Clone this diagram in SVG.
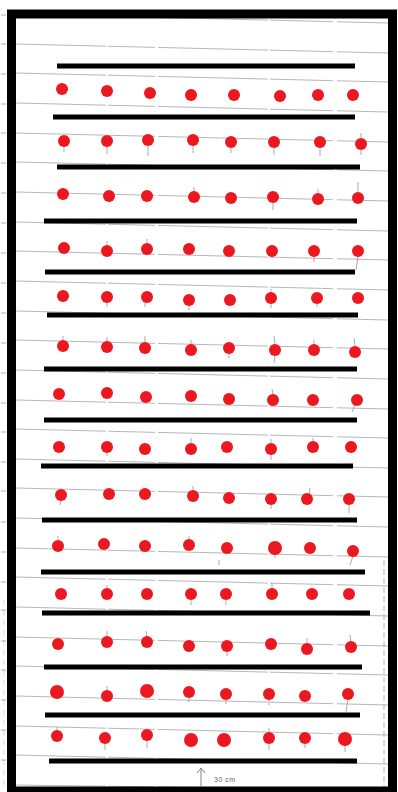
<svg xmlns="http://www.w3.org/2000/svg" width="398" height="792" viewBox="0 0 398 792">
<style>
.rule{stroke:#8c8c8c;stroke-width:0.9;fill:none;opacity:0.7;stroke-dasharray:90 2 47 3 110 2 63 4}
.tick{stroke:#9a9a9a;stroke-width:1;opacity:0.8}
.bar{stroke:#000;stroke-width:5;stroke-linecap:butt}
.dot{fill:#ec1820}
.stem{stroke:#8a8a8a;stroke-width:0.9;opacity:0.8}
.note{font-family:"Liberation Sans",Arial,sans-serif;font-size:7px;fill:#666;letter-spacing:0.5px}
</style>
<rect x="0" y="0" width="398" height="792" fill="#fff"/>
<g id="ruled-lines">
<line class="rule" x1="16" y1="14" x2="388" y2="23"/>
<line class="rule" x1="16" y1="44" x2="388" y2="53"/>
<line class="rule" x1="16" y1="73" x2="388" y2="82"/>
<line class="rule" x1="16" y1="103" x2="388" y2="112"/>
<line class="rule" x1="16" y1="133" x2="388" y2="142"/>
<line class="rule" x1="16" y1="162" x2="388" y2="171"/>
<line class="rule" x1="16" y1="192" x2="388" y2="201"/>
<line class="rule" x1="16" y1="222" x2="388" y2="231"/>
<line class="rule" x1="16" y1="251" x2="388" y2="260"/>
<line class="rule" x1="16" y1="281" x2="388" y2="290"/>
<line class="rule" x1="16" y1="311" x2="388" y2="320"/>
<line class="rule" x1="16" y1="340" x2="388" y2="349"/>
<line class="rule" x1="16" y1="370" x2="388" y2="379"/>
<line class="rule" x1="16" y1="400" x2="388" y2="409"/>
<line class="rule" x1="16" y1="429" x2="388" y2="438"/>
<line class="rule" x1="16" y1="459" x2="388" y2="468"/>
<line class="rule" x1="16" y1="488" x2="388" y2="497"/>
<line class="rule" x1="16" y1="518" x2="388" y2="527"/>
<line class="rule" x1="16" y1="548" x2="388" y2="557"/>
<line class="rule" x1="16" y1="577" x2="388" y2="586"/>
<line class="rule" x1="16" y1="607" x2="388" y2="616"/>
<line class="rule" x1="16" y1="637" x2="388" y2="646"/>
<line class="rule" x1="16" y1="666" x2="388" y2="675"/>
<line class="rule" x1="16" y1="696" x2="388" y2="705"/>
<line class="rule" x1="16" y1="726" x2="388" y2="735"/>
<line class="rule" x1="16" y1="755" x2="388" y2="764"/>
<line class="rule" x1="16" y1="785" x2="388" y2="790"/>
<line class="rule" x1="384" y1="560" x2="384" y2="787" style="stroke-dasharray:6 3"/>
<line class="rule" x1="4" y1="600" x2="4" y2="790" style="stroke-dasharray:5 5;opacity:0.4"/>
</g>
<g id="margin-ticks">
<line class="tick" x1="1" y1="15" x2="6" y2="15"/>
<line class="tick" x1="1" y1="44" x2="6" y2="44"/>
<line class="tick" x1="1" y1="74" x2="6" y2="74"/>
<line class="tick" x1="1" y1="104" x2="6" y2="104"/>
<line class="tick" x1="1" y1="133" x2="6" y2="133"/>
<line class="tick" x1="1" y1="163" x2="6" y2="163"/>
<line class="tick" x1="1" y1="193" x2="6" y2="193"/>
<line class="tick" x1="1" y1="223" x2="6" y2="223"/>
<line class="tick" x1="1" y1="253" x2="6" y2="253"/>
<line class="tick" x1="1" y1="283" x2="6" y2="283"/>
<line class="tick" x1="1" y1="313" x2="6" y2="313"/>
<line class="tick" x1="1" y1="343" x2="6" y2="343"/>
<line class="tick" x1="1" y1="373" x2="6" y2="373"/>
<line class="tick" x1="1" y1="403" x2="6" y2="403"/>
<line class="tick" x1="1" y1="432" x2="6" y2="432"/>
<line class="tick" x1="1" y1="462" x2="6" y2="462"/>
<line class="tick" x1="1" y1="491" x2="6" y2="491"/>
<line class="tick" x1="1" y1="522" x2="6" y2="522"/>
<line class="tick" x1="1" y1="552" x2="6" y2="552"/>
<line class="tick" x1="1" y1="582" x2="6" y2="582"/>
<line class="tick" x1="1" y1="610" x2="6" y2="610"/>
<line class="tick" x1="1" y1="641" x2="6" y2="641"/>
<line class="tick" x1="1" y1="670" x2="6" y2="670"/>
<line class="tick" x1="1" y1="700" x2="6" y2="700"/>
<line class="tick" x1="1" y1="730" x2="6" y2="730"/>
<line class="tick" x1="1" y1="760" x2="6" y2="760"/>
</g>
<g id="bars">
<line class="bar" x1="57" y1="66" x2="355" y2="66"/>
<line class="bar" x1="53" y1="117" x2="355" y2="117"/>
<line class="bar" x1="57" y1="167" x2="360" y2="167"/>
<line class="bar" x1="44" y1="221" x2="357" y2="221"/>
<line class="bar" x1="45" y1="272" x2="355" y2="272"/>
<line class="bar" x1="47" y1="315" x2="358" y2="315"/>
<line class="bar" x1="44" y1="369" x2="357" y2="369"/>
<line class="bar" x1="44" y1="420" x2="357" y2="420"/>
<line class="bar" x1="41" y1="466" x2="353" y2="466"/>
<line class="bar" x1="42" y1="520" x2="357" y2="520"/>
<line class="bar" x1="41" y1="572" x2="365" y2="572"/>
<line class="bar" x1="42" y1="613" x2="370" y2="613"/>
<line class="bar" x1="44" y1="667" x2="362" y2="667"/>
<line class="bar" x1="45" y1="715" x2="360" y2="715"/>
<line class="bar" x1="49" y1="761" x2="357" y2="761"/>
</g>
<g id="stems">
<line class="stem" x1="64" y1="146" x2="64" y2="152"/>
<line class="stem" x1="107" y1="146" x2="107" y2="154"/>
<line class="stem" x1="148" y1="145" x2="148" y2="156"/>
<line class="stem" x1="193" y1="145" x2="193" y2="153"/>
<line class="stem" x1="231" y1="147" x2="231" y2="153"/>
<line class="stem" x1="274" y1="147" x2="274" y2="155"/>
<line class="stem" x1="320" y1="147" x2="320" y2="156"/>
<line class="stem" x1="361" y1="149" x2="361" y2="155"/>
<line class="stem" x1="361" y1="138" x2="361" y2="133"/>
<line class="stem" x1="194" y1="192" x2="194" y2="187"/>
<line class="stem" x1="318" y1="194" x2="318" y2="189"/>
<line class="stem" x1="358" y1="193" x2="358" y2="182"/>
<line class="stem" x1="273" y1="202" x2="273" y2="210"/>
<line class="stem" x1="107" y1="246" x2="107" y2="241"/>
<line class="stem" x1="147" y1="244" x2="147" y2="239"/>
<line class="stem" x1="314" y1="256" x2="314" y2="262"/>
<line class="stem" x1="358" y1="256" x2="356" y2="270"/>
<line class="stem" x1="107" y1="302" x2="107" y2="307"/>
<line class="stem" x1="145" y1="302" x2="145" y2="307"/>
<line class="stem" x1="189" y1="305" x2="189" y2="310"/>
<line class="stem" x1="271" y1="293" x2="271" y2="289"/>
<line class="stem" x1="271" y1="303" x2="271" y2="308"/>
<line class="stem" x1="317" y1="303" x2="317" y2="307"/>
<line class="stem" x1="63" y1="341" x2="63" y2="336"/>
<line class="stem" x1="107" y1="342" x2="107" y2="337"/>
<line class="stem" x1="145" y1="343" x2="145" y2="336"/>
<line class="stem" x1="191" y1="345" x2="191" y2="340"/>
<line class="stem" x1="229" y1="353" x2="229" y2="358"/>
<line class="stem" x1="275" y1="344" x2="274" y2="336"/>
<line class="stem" x1="275" y1="355" x2="274" y2="363"/>
<line class="stem" x1="314" y1="345" x2="314" y2="340"/>
<line class="stem" x1="355" y1="346" x2="354" y2="338"/>
<line class="stem" x1="273" y1="395" x2="272" y2="389"/>
<line class="stem" x1="355" y1="405" x2="352" y2="412"/>
<line class="stem" x1="107" y1="452" x2="107" y2="456"/>
<line class="stem" x1="191" y1="443" x2="191" y2="438"/>
<line class="stem" x1="271" y1="443" x2="271" y2="439"/>
<line class="stem" x1="271" y1="454" x2="271" y2="460"/>
<line class="stem" x1="313" y1="442" x2="313" y2="438"/>
<line class="stem" x1="61" y1="500" x2="60" y2="505"/>
<line class="stem" x1="193" y1="491" x2="193" y2="486"/>
<line class="stem" x1="271" y1="504" x2="271" y2="509"/>
<line class="stem" x1="309" y1="494" x2="310" y2="488"/>
<line class="stem" x1="349" y1="504" x2="349" y2="513"/>
<line class="stem" x1="58" y1="541" x2="58" y2="536"/>
<line class="stem" x1="189" y1="540" x2="189" y2="536"/>
<line class="stem" x1="275" y1="553" x2="275" y2="558"/>
<line class="stem" x1="219" y1="560" x2="219" y2="565"/>
<line class="stem" x1="353" y1="556" x2="350" y2="565"/>
<line class="stem" x1="107" y1="589" x2="107" y2="585"/>
<line class="stem" x1="191" y1="599" x2="191" y2="605"/>
<line class="stem" x1="226" y1="599" x2="226" y2="605"/>
<line class="stem" x1="272" y1="589" x2="272" y2="583"/>
<line class="stem" x1="107" y1="637" x2="107" y2="631"/>
<line class="stem" x1="147" y1="637" x2="146" y2="631"/>
<line class="stem" x1="227" y1="651" x2="227" y2="656"/>
<line class="stem" x1="307" y1="644" x2="307" y2="638"/>
<line class="stem" x1="351" y1="642" x2="350" y2="635"/>
<line class="stem" x1="107" y1="691" x2="107" y2="686"/>
<line class="stem" x1="189" y1="697" x2="189" y2="702"/>
<line class="stem" x1="226" y1="699" x2="226" y2="704"/>
<line class="stem" x1="269" y1="699" x2="269" y2="705"/>
<line class="stem" x1="348" y1="699" x2="346" y2="712"/>
<line class="stem" x1="57" y1="731" x2="57" y2="727"/>
<line class="stem" x1="105" y1="743" x2="105" y2="750"/>
<line class="stem" x1="147" y1="740" x2="147" y2="748"/>
<line class="stem" x1="269" y1="733" x2="269" y2="728"/>
<line class="stem" x1="269" y1="743" x2="269" y2="750"/>
<line class="stem" x1="305" y1="743" x2="305" y2="748"/>
<line class="stem" x1="345" y1="746" x2="345" y2="752"/>
</g>
<g id="row-1">
<circle class="dot" cx="62" cy="89" r="6"/><circle class="dot" cx="107" cy="91" r="6"/><circle class="dot" cx="150" cy="93" r="6"/><circle class="dot" cx="191" cy="95" r="6"/><circle class="dot" cx="234" cy="95" r="6"/><circle class="dot" cx="280" cy="96" r="6"/><circle class="dot" cx="318" cy="95" r="6"/><circle class="dot" cx="353" cy="95" r="6"/>
</g>
<g id="row-2">
<circle class="dot" cx="64" cy="141" r="6"/><circle class="dot" cx="107" cy="141" r="6"/><circle class="dot" cx="148" cy="140" r="6"/><circle class="dot" cx="193" cy="140" r="6"/><circle class="dot" cx="231" cy="142" r="6"/><circle class="dot" cx="274" cy="142" r="6"/><circle class="dot" cx="320" cy="142" r="6"/><circle class="dot" cx="361" cy="144" r="6"/>
</g>
<g id="row-3">
<circle class="dot" cx="63" cy="194" r="6"/><circle class="dot" cx="109" cy="196" r="6"/><circle class="dot" cx="147" cy="196" r="6"/><circle class="dot" cx="194" cy="197" r="6"/><circle class="dot" cx="231" cy="198" r="6"/><circle class="dot" cx="273" cy="197" r="6"/><circle class="dot" cx="318" cy="199" r="6"/><circle class="dot" cx="358" cy="198" r="6"/>
</g>
<g id="row-4">
<circle class="dot" cx="64" cy="248" r="6"/><circle class="dot" cx="107" cy="251" r="6"/><circle class="dot" cx="147" cy="249" r="6"/><circle class="dot" cx="189" cy="249" r="6"/><circle class="dot" cx="229" cy="251" r="6"/><circle class="dot" cx="272" cy="251" r="6"/><circle class="dot" cx="314" cy="251" r="6"/><circle class="dot" cx="358" cy="251" r="6"/>
</g>
<g id="row-5">
<circle class="dot" cx="63" cy="296" r="6"/><circle class="dot" cx="107" cy="297" r="6"/><circle class="dot" cx="147" cy="297" r="6"/><circle class="dot" cx="189" cy="300" r="6"/><circle class="dot" cx="230" cy="300" r="6"/><circle class="dot" cx="271" cy="298" r="6"/><circle class="dot" cx="317" cy="298" r="6"/><circle class="dot" cx="358" cy="298" r="6"/>
</g>
<g id="row-6">
<circle class="dot" cx="63" cy="346" r="6"/><circle class="dot" cx="107" cy="347" r="6"/><circle class="dot" cx="145" cy="348" r="6"/><circle class="dot" cx="191" cy="350" r="6"/><circle class="dot" cx="229" cy="348" r="6"/><circle class="dot" cx="275" cy="350" r="6"/><circle class="dot" cx="314" cy="350" r="6"/><circle class="dot" cx="355" cy="352" r="6"/>
</g>
<g id="row-7">
<circle class="dot" cx="59" cy="394" r="6"/><circle class="dot" cx="107" cy="393" r="6"/><circle class="dot" cx="146" cy="397" r="6"/><circle class="dot" cx="191" cy="396" r="6"/><circle class="dot" cx="229" cy="399" r="6"/><circle class="dot" cx="273" cy="400" r="6"/><circle class="dot" cx="313" cy="400" r="6"/><circle class="dot" cx="357" cy="400" r="6"/>
</g>
<g id="row-8">
<circle class="dot" cx="59" cy="447" r="6"/><circle class="dot" cx="107" cy="447" r="6"/><circle class="dot" cx="145" cy="449" r="6"/><circle class="dot" cx="191" cy="449" r="6"/><circle class="dot" cx="227" cy="447" r="6"/><circle class="dot" cx="271" cy="449" r="6"/><circle class="dot" cx="313" cy="447" r="6"/><circle class="dot" cx="351" cy="447" r="6"/>
</g>
<g id="row-9">
<circle class="dot" cx="61" cy="495" r="6"/><circle class="dot" cx="109" cy="494" r="6"/><circle class="dot" cx="145" cy="494" r="6"/><circle class="dot" cx="193" cy="496" r="6"/><circle class="dot" cx="229" cy="498" r="6"/><circle class="dot" cx="271" cy="499" r="6"/><circle class="dot" cx="307" cy="499" r="6"/><circle class="dot" cx="349" cy="499" r="6"/>
</g>
<g id="row-10">
<circle class="dot" cx="58" cy="546" r="6"/><circle class="dot" cx="104" cy="544" r="6"/><circle class="dot" cx="145" cy="546" r="6"/><circle class="dot" cx="189" cy="545" r="6"/><circle class="dot" cx="227" cy="548" r="6"/><circle class="dot" cx="275" cy="548" r="7"/><circle class="dot" cx="310" cy="548" r="6"/><circle class="dot" cx="353" cy="551" r="6"/>
</g>
<g id="row-11">
<circle class="dot" cx="61" cy="594" r="6"/><circle class="dot" cx="107" cy="594" r="6"/><circle class="dot" cx="147" cy="594" r="6"/><circle class="dot" cx="191" cy="594" r="6"/><circle class="dot" cx="226" cy="594" r="6"/><circle class="dot" cx="272" cy="594" r="6"/><circle class="dot" cx="312" cy="594" r="6"/><circle class="dot" cx="349" cy="594" r="6"/>
</g>
<g id="row-12">
<circle class="dot" cx="58" cy="644" r="6"/><circle class="dot" cx="107" cy="642" r="6"/><circle class="dot" cx="147" cy="642" r="6"/><circle class="dot" cx="189" cy="646" r="6"/><circle class="dot" cx="227" cy="646" r="6"/><circle class="dot" cx="271" cy="644" r="6"/><circle class="dot" cx="307" cy="649" r="6"/><circle class="dot" cx="351" cy="647" r="6"/>
</g>
<g id="row-13">
<circle class="dot" cx="57" cy="692" r="7"/><circle class="dot" cx="107" cy="696" r="6"/><circle class="dot" cx="147" cy="691" r="7"/><circle class="dot" cx="189" cy="692" r="6"/><circle class="dot" cx="226" cy="694" r="6"/><circle class="dot" cx="269" cy="694" r="6"/><circle class="dot" cx="305" cy="696" r="6"/><circle class="dot" cx="348" cy="694" r="6"/>
</g>
<g id="row-14">
<circle class="dot" cx="57" cy="736" r="6"/><circle class="dot" cx="105" cy="738" r="6"/><circle class="dot" cx="147" cy="735" r="6"/><circle class="dot" cx="191" cy="740" r="7"/><circle class="dot" cx="224" cy="740" r="7"/><circle class="dot" cx="269" cy="738" r="6"/><circle class="dot" cx="305" cy="738" r="6"/><circle class="dot" cx="345" cy="739" r="7"/>
</g>
<g id="scale-note">
<path d="M201 786 V769 M197 773 L201 768 L205 773" stroke="#777" stroke-width="0.9" fill="none"/>
<text class="note" x="214" y="782">30 cm</text>
</g>
<g id="frame">
<rect x="11.5" y="14" width="381" height="777" fill="none" stroke="#000" stroke-width="9"/>
</g>
</svg>
